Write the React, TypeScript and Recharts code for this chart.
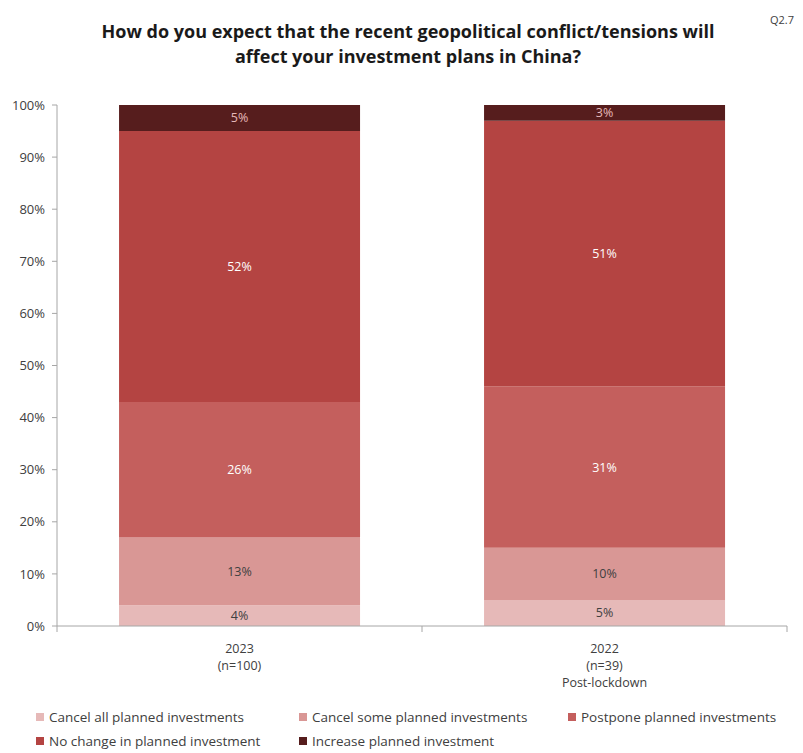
import React from 'react';
import { BarChart, Bar, XAxis, YAxis, LabelList } from 'recharts';

// survey groups
const groups = ['2023', '2022'];
const groupLines = [['2023', '(n=100)'], ['2022', '(n=39)', 'Post-lockdown']];

// share of respondents (%) per answer, bottom to top
const cancelAll = [4, 5];
const cancelSome = [13, 10];
const postpone = [26, 31];
const noChange = [52, 51];
const increase = [5, 3];

const seriesNames = [
  'Cancel all planned investments',
  'Cancel some planned investments',
  'Postpone planned investments',
  'No change in planned investment',
  'Increase planned investment',
];
const yTicks = [0, 10, 20, 30, 40, 50, 60, 70, 80, 90, 100];

const series = [
  { key: 'cancelAll', values: cancelAll, color: '#E6B9B8', text: '#404040' },
  { key: 'cancelSome', values: cancelSome, color: '#D99795', text: '#404040' },
  { key: 'postpone', values: postpone, color: '#C45F5D', text: '#FFFFFF' },
  { key: 'noChange', values: noChange, color: '#B44442', text: '#FFFFFF' },
  { key: 'increase', values: increase, color: '#561D1D', text: '#E6B9B8' },
];

const data = groups.map((g, i) => {
  const row: Record<string, any> = { name: g };
  series.forEach(s => { row[s.key] = s.values[i]; });
  return row;
});

const font = '"Open Sans", "Noto Sans", sans-serif';

const XTick = (props: any) => {
  const { x, y, payload, index } = props;
  const lines: string[] = groupLines[index] || [payload.value];
  const off = payload.offset || 0;
  return (
    <g>
      <line x1={x + off} x2={x + off} y1={y - 8} y2={y - 2} stroke="#A6A6A6" />
      {index === 0 && <line x1={x - off} x2={x - off} y1={y - 8} y2={y - 2} stroke="#A6A6A6" />}
      {lines.map((l, i) => (
        <text key={i} x={x} y={y + 19 + i * 17} textAnchor="middle" fontSize={12.5} fill="#404040" fontFamily={font}>
          {l}
        </text>
      ))}
    </g>
  );
};

const App: React.FC = () => {
  return (
    <div style={{ position: 'relative', width: 795, height: 745, fontFamily: font }}>
      {/* inner canvas aligned with the window's top-left corner */}
      <div style={{ position: 'absolute', left: -8, top: -8, width: 803, height: 753 }}>
        <div style={{ position: 'absolute', left: 2, top: 8, height: 745, borderLeft: '1px solid #C8C8C8' }} />
        <div style={{ position: 'absolute', left: 0, width: 816, top: 19, textAlign: 'center', fontWeight: 700, fontSize: 18, lineHeight: '25px', color: '#1a1a1a' }}>
          How do you expect that the recent geopolitical conflict/tensions will
          <br />
          affect your investment plans in China?
        </div>
        <div style={{ position: 'absolute', left: 770, top: 12, fontSize: 11, color: '#404040' }}>Q2.7</div>
        <div style={{ position: 'absolute', left: 0, top: 0 }}>
          <BarChart width={803} height={700} data={data} margin={{ top: 105, right: 16, left: 7, bottom: 14 }} barCategoryGap="17%">
            <XAxis dataKey="name" height={60} stroke="#A6A6A6" tickLine={false} tick={<XTick />} interval={0} />
            <YAxis
              width={50}
              domain={[0, 100]}
              ticks={yTicks}
              tickFormatter={(v: number) => `${v}%`}
              stroke="#A6A6A6"
              tickSize={5}
              tickMargin={7}
              tick={{ fontSize: 13, fill: '#404040', fontFamily: font }}
            />
            {series.map((s, i) => (
              <Bar key={s.key} dataKey={s.key} name={seriesNames[i]} stackId="a" fill={s.color} isAnimationActive={false}>
                <LabelList dataKey={s.key} position="center" formatter={(v: any) => `${v}%`} fill={s.text} fontSize={12.5} fontFamily={font} />
              </Bar>
            ))}
          </BarChart>
        </div>
        <div style={{ position: 'absolute', left: 0, top: 709, width: 803, fontSize: 13.5, lineHeight: '16px', color: '#404040' }}>
          {seriesNames.map((n, i) => {
            const col = i % 3;
            const row = Math.floor(i / 3);
            const lefts = [36, 299, 568];
            return (
              <div key={n} style={{ position: 'absolute', left: lefts[col], top: row * 24, display: 'flex', alignItems: 'center', whiteSpace: 'nowrap' }}>
                <span style={{ width: 8, height: 8, background: series[i].color, marginRight: 5, display: 'inline-block' }} />
                {n}
              </div>
            );
          })}
        </div>
      </div>
    </div>
  );
};

export default App;
